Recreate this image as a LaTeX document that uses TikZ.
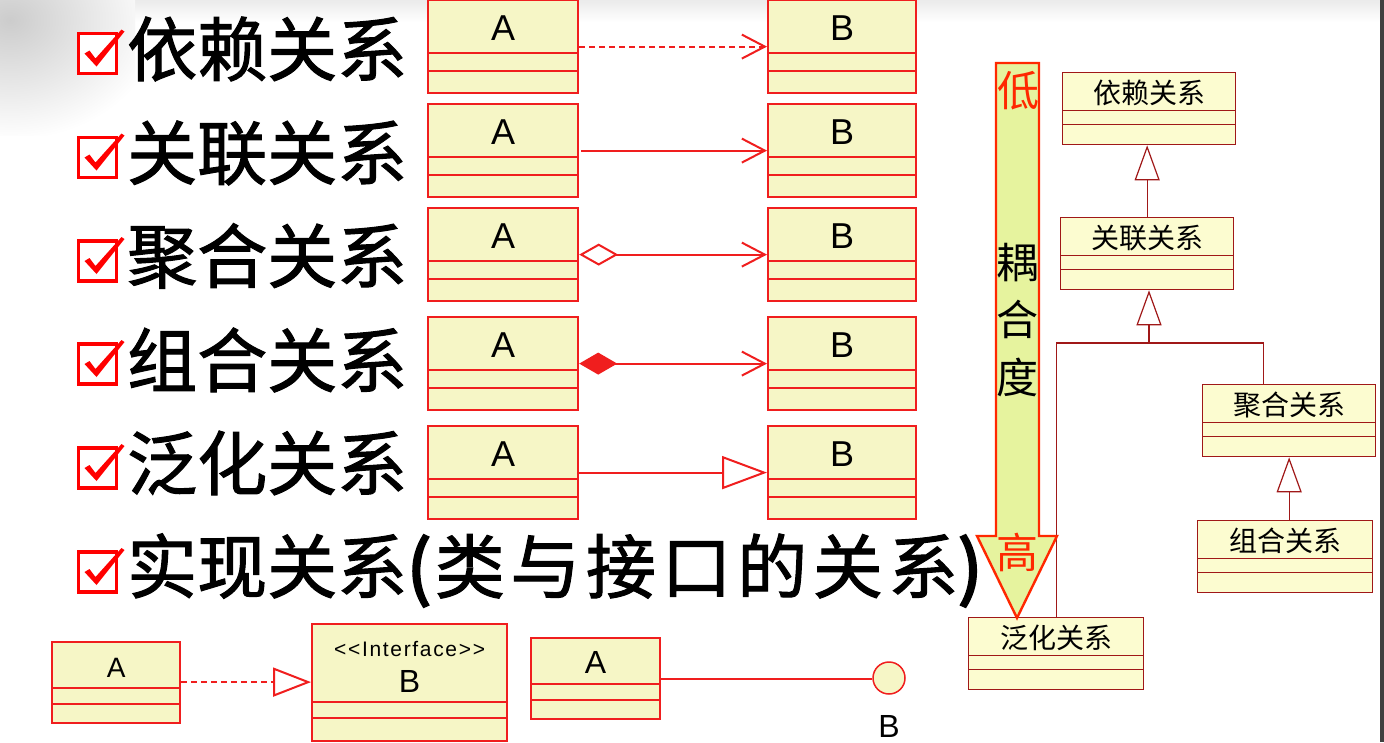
\documentclass[tikz,border=0pt]{standalone}
\usepackage{fontspec}
\setmainfont{Liberation Sans}
\newfontfamily\cjk{Noto Sans CJK SC}
\usetikzlibrary{arrows.meta,shapes.multipart}

\definecolor{umlred}{RGB}{240,30,30}
\definecolor{clsfill}{RGB}{246,246,198}
\definecolor{treered}{RGB}{160,24,24}
\definecolor{treefill}{RGB}{252,252,208}
\definecolor{barfill}{RGB}{230,243,158}
\definecolor{barred}{RGB}{255,40,0}

\newcommand{\rowcls}[1]{\rule[-12pt]{0pt}{50.8pt}#1\nodepart{two}\rule{0pt}{15.8pt}\nodepart{three}\rule{0pt}{19.8pt}}
\newcommand{\treecls}[1]{\rule[-7pt]{0pt}{36.7pt}#1\nodepart{two}\rule{0pt}{12.7pt}\nodepart{three}\rule{0pt}{18.7pt}}

\begin{document}
\begin{tikzpicture}[
    x=1pt, y=-1pt,
    font=\fontsize{36}{36}\selectfont,
    cls/.style={
        rectangle split,
        rectangle split parts=3,
        draw=umlred,
        fill=clsfill,
        line width=2.2pt,
        inner xsep=0pt,
        inner ysep=0pt,
        text width=#1,
        align=center,
        anchor=north west
    },
    cls/.default=150pt,
    treebox/.style={
        rectangle split,
        rectangle split parts=3,
        draw=treered,
        fill=treefill,
        line width=1.3pt,
        inner xsep=0pt,
        inner ysep=0pt,
        text width=173pt,
        align=center,
        anchor=north west,
        font=\cjk\fontsize{28}{28}\selectfont
    },
    reltitle/.style={anchor=west, inner sep=0pt, font=\cjk\fontsize{70}{70}\selectfont\addfontfeature{FakeBold=1.5}},
    rel/.style={draw=umlred, line width=2pt},
    depend/.style={rel, dash pattern=on 6pt off 4pt, -{Straight Barb[length=23pt,width=24pt]}},
    assoc/.style={rel, -{Straight Barb[length=23pt,width=24pt]}},
    aggreg/.style={rel, {Diamond[open,length=39pt,width=22pt]}-{Straight Barb[length=23pt,width=24pt]}},
    compos/.style={rel, {Diamond[length=38pt,width=22pt]}-{Straight Barb[length=23pt,width=24pt]}},
    inherit/.style={rel, -{Triangle[open,length=45pt,width=33pt]}},
    realize/.style={rel, dash pattern=on 6pt off 4pt, -{Triangle[open,length=38pt,width=29pt]}},
    lollipop/.style={circle, draw=umlred, fill=clsfill, line width=1.5pt, minimum size=32pt, inner sep=0pt},
    genline/.style={draw=treered, line width=1.2pt},
    genarrow/.style={genline, -{Triangle[open,length=35pt,width=25pt]}},
    coupling/.style={draw=barred, fill=barfill, line width=2.4pt, line join=miter},
    barchar/.style={font=\cjk\fontsize{42}{42}\selectfont, inner sep=0pt},
    chkbox/.pic={
        \draw[line width=3.5pt, draw=red, fill=white] (-19,-20) rectangle (19,20);
        \fill[red] (-13,0) -- (-8,-3) -- (-2,5) -- (24,-24) -- (27,-22) -- (-1,13) -- cycle;
    }
]
\useasboundingbox (0,0) rectangle (1384,742);

% slide background
\fill[white] (0,0) rectangle (1384,742);
\shade[top color=black!8, bottom color=white] (0,0) rectangle (1384,22);
\begin{scope}
    \clip (0,0) rectangle (135,135);
    \shade[inner color=black!20, outer color=white] (10,20) ellipse [x radius=150, y radius=120];
\end{scope}
\fill[black!75] (1380,0) rectangle (1384,742);

% relation names
\pic at (97.5,53.5) {chkbox};
\pic at (97.5,157.5) {chkbox};
\pic at (97.5,261) {chkbox};
\pic at (97.5,364) {chkbox};
\pic at (97.5,468) {chkbox};
\pic at (97.5,572) {chkbox};
\node[reltitle] (t1) at (127,49) {依赖关系};
\node[reltitle] (t2) at (127,153) {关联关系};
\node[reltitle] (t3) at (127,256) {聚合关系};
\node[reltitle] (t4) at (127,360) {组合关系};
\node[reltitle] (t5) at (127,463) {泛化关系};
\node[reltitle] (t6) at (127,570) {实现关系{\addfontfeature{LetterSpace=8}{\addfontfeature{FakeBold=4}(}\kern4pt类与接口的关系{\addfontfeature{FakeBold=4})}}};

% class pairs
\node[cls] (a1) at (427,-1) {\rowcls{A}};
\node[cls=148pt] (b1) at (767,-1) {\rowcls{B}};
\node[cls] (a2) at (427,103) {\rowcls{A}};
\node[cls=148pt] (b2) at (767,103) {\rowcls{B}};
\node[cls] (a3) at (427,207) {\rowcls{A}};
\node[cls=148pt] (b3) at (767,207) {\rowcls{B}};
\node[cls] (a4) at (427,316) {\rowcls{A}};
\node[cls=148pt] (b4) at (767,316) {\rowcls{B}};
\node[cls] (a5) at (427,425) {\rowcls{A}};
\node[cls=148pt] (b5) at (767,425) {\rowcls{B}};

\draw[depend] ([yshift=6.5pt]a1.text split east) -- ([yshift=6.5pt]b1.text split west);
\draw[assoc] ([yshift=6.5pt,xshift=2pt]a2.text split east) -- ([yshift=6.5pt]b2.text split west);
\draw[aggreg] ([yshift=6.5pt]a3.text split east) -- ([yshift=6.5pt]b3.text split west);
\draw[compos] ([yshift=6.5pt]a4.text split east) -- ([yshift=6.5pt]b4.text split west);
\draw[inherit] ([yshift=6.5pt]a5.text split east) -- ([yshift=6.5pt]b5.text split west);

% realization
\node[cls=128pt] (rA) at (51,641) {\rule[-10pt]{0pt}{43.8pt}\fontsize{28}{28}\selectfont A\nodepart{two}\rule{0pt}{13.8pt}\nodepart{three}\rule{0pt}{16.8pt}};
\node[cls=195pt] (rB) at (311,623) {\fontsize{21}{35}\selectfont\addfontfeature{LetterSpace=8}\rule{0pt}{31pt}<{}<Interface>{}>\\\fontsize{32}{35}\selectfont B\rule[-8.8pt]{0pt}{8.8pt}\nodepart{two}\rule{0pt}{13.8pt}\nodepart{three}\rule{0pt}{20.8pt}};
\node[cls=129pt] (lA) at (530,637) {\rule[-10pt]{0pt}{43.8pt}\fontsize{32}{32}\selectfont A\nodepart{two}\rule{0pt}{13.8pt}\nodepart{three}\rule{0pt}{16.8pt}};
\node[lollipop, label={[font=\fontsize{32}{32}\selectfont, inner sep=0pt, label distance=21pt]below:B}] (lolB) at (889,678) {};

\draw[realize] ([yshift=6pt]rA.text split east) coordinate (r1) -- (r1 -| rB.west);
\draw[rel] ([yshift=5pt]lA.text split east) coordinate (l1) -- (l1 -| lolB.west);

% coupling order
\node[treebox] (tDep) at (1062,72) {\treecls{依赖关系}};
\node[treebox] (tAssoc) at (1060,217) {\treecls{关联关系}};
\node[treebox] (tAggr) at (1202,384) {\treecls{聚合关系}};
\node[treebox, text width=175pt] (tComp) at (1197,520) {\treecls{组合关系}};
\node[treebox, text width=175pt] (tGen) at (968,617) {\treecls{泛化关系}};

\coordinate (jn) at (1149,343);
\draw[genarrow] (tAssoc.north) -- (tAssoc.north |- tDep.south);
\draw[genline] (tGen.north) |- (jn) -| ([xshift=-26pt]tAggr.north);
\draw[genarrow] (jn) -- (jn |- tAssoc.south);
\draw[genarrow] (tComp.north -| tAggr.south) -- (tAggr.south);

\draw[coupling] (996,63) -- (1039,63) -- (1039,536) -- (1057,536) -- (1017,618) -- (977,536) -- (996,536) -- cycle;
\node[barchar, text=barred] (low) at (1018,91) {低};
\node[barchar, align=center, font=\cjk\fontsize{42}{57.5}\selectfont] (degree) at (1017,320) {耦\\合\\度};
\node[barchar, text=barred] (high) at (1017,552) {高};

\end{tikzpicture}
\end{document}
